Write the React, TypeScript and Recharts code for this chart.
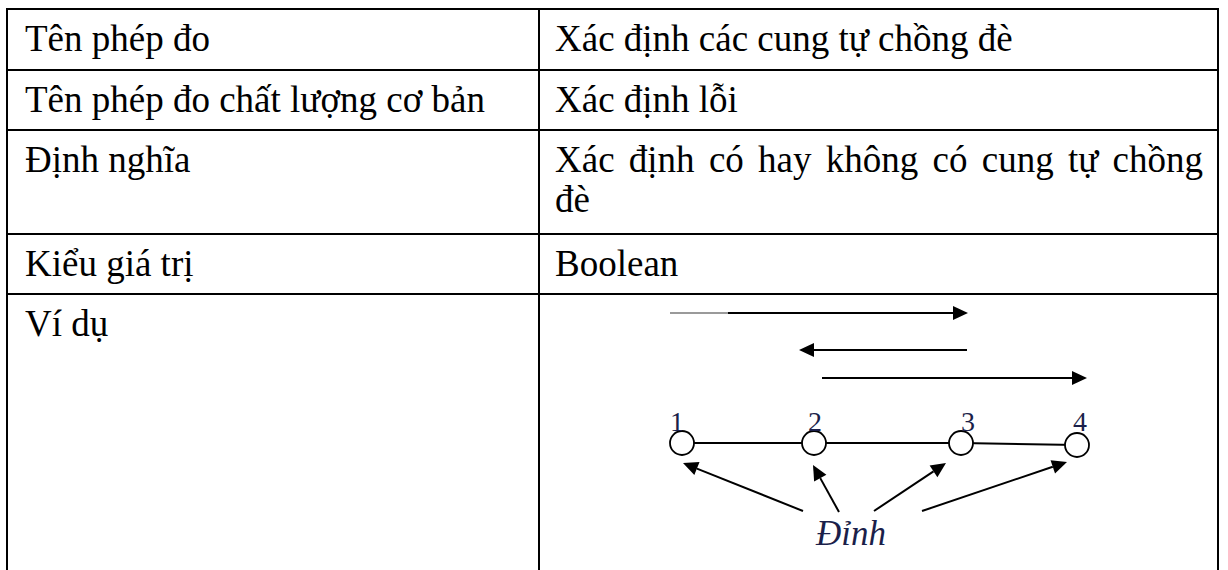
import React from 'react';
import { ScatterChart, Scatter, XAxis, YAxis, ReferenceLine } from 'recharts';

// table rows
const rowLabels = ['Tên phép đo', 'Tên phép đo chất lượng cơ bản', 'Định nghĩa', 'Kiểu giá trị', 'Ví dụ'];
const rowValues = ['Xác định các cung tự chồng đè', 'Xác định lỗi', 'Xác định có hay không có cung tự chồng đè', 'Boolean', ''];
const rowHeights = [61, 60, 104, 60, 300];

// example diagram, units (origin = top-left of the example area)
const nodes = [
  { x: 82, y: 150 },
  { x: 214, y: 150 },
  { x: 361, y: 150 },
  { x: 477, y: 152 },
];
const nodeLabels = [
  { x: 70, y: 138, t: '1' },
  { x: 208, y: 138, t: '2' },
  { x: 361, y: 138, t: '3' },
  { x: 473, y: 138, t: '4' },
];
const arcs = [
  { x1: 70, y1: 20, x2: 368, y2: 20 },
  { x1: 367, y1: 57, x2: 199, y2: 57 },
  { x1: 222, y1: 85, x2: 487, y2: 85 },
];
const pointers = [
  { x1: 203, y1: 218, x2: 83, y2: 170 },
  { x1: 239, y1: 219, x2: 213, y2: 172 },
  { x1: 274, y1: 218, x2: 346, y2: 170 },
  { x1: 322, y1: 218, x2: 467, y2: 169 },
];
const caption = [{ x: 251, y: 252, t: 'Đỉnh' }];

const ink = '#1b1f4a';

const Arrow = (p: any) => {
  const { x1, y1, x2, y2 } = p;
  const a = Math.atan2(y2 - y1, x2 - x1);
  const len = 15;
  const half = 7;
  const bx = x2 - len * Math.cos(a);
  const by = y2 - len * Math.sin(a);
  const s = Math.sin(a);
  const c = Math.cos(a);
  const pts = `${x2},${y2} ${bx + half * s},${by - half * c} ${bx - half * s},${by + half * c}`;
  return (
    <g>
      <line x1={x1} y1={y1} x2={bx} y2={by} stroke="#000" strokeWidth={2} />
      <polygon points={pts} fill="#000" />
    </g>
  );
};

const Node = (p: any) => (
  <circle cx={p.cx} cy={p.cy} r={12} fill="#fff" stroke="#000" strokeWidth={1.8} />
);

const Digit = (p: any) => (
  <text x={p.cx} y={p.cy} fontSize={28} fill={ink} fontFamily='"Liberation Serif", serif'>
    {p.payload.t}
  </text>
);

const Caption = (p: any) => (
  <text x={p.cx} y={p.cy} fontSize={35} fontStyle="italic" textAnchor="middle" fill={ink} fontFamily='"Liberation Serif", serif'>
    {p.payload.t}
  </text>
);

function Diagram() {
  return (
    <ScatterChart width={560} height={277} margin={{ top: 0, right: 0, bottom: 0, left: 0 }}>
      <XAxis type="number" dataKey="x" domain={[0, 560]} hide />
      <YAxis type="number" dataKey="y" domain={[0, 277]} reversed hide />
      {arcs.map((a, i) => (
        <ReferenceLine
          key={`arc-${i}`}
          segment={[{ x: a.x1, y: a.y1 }, { x: a.x2, y: a.y2 }]}
          shape={Arrow}
        />
      ))}
      {/* faded start of the first arc */}
      <ReferenceLine segment={[{ x: 70, y: 20 }, { x: 128, y: 20 }]} stroke="#9a9a9a" strokeWidth={2} />
      {pointers.map((a, i) => (
        <ReferenceLine
          key={`ptr-${i}`}
          segment={[{ x: a.x1, y: a.y1 }, { x: a.x2, y: a.y2 }]}
          shape={Arrow}
        />
      ))}
      <Scatter data={nodes} line={{ stroke: '#000', strokeWidth: 2 }} lineType="joint" shape={Node} isAnimationActive={false} />
      <Scatter data={nodeLabels} shape={Digit} isAnimationActive={false} />
      <Scatter data={caption} shape={Caption} isAnimationActive={false} />
    </ScatterChart>
  );
}

export default function App() {
  return (
    <div
      style={{
        position: 'relative',
        width: 1228,
        height: 570,
        overflow: 'hidden',
        background: '#fff',
        fontFamily: '"Liberation Serif", "Times New Roman", serif',
        fontSize: 37,
        lineHeight: '40px',
        color: '#000',
      }}
    >
      <style>{'body{margin:0}'}</style>
      <div
        style={{
          position: 'absolute',
          left: 6,
          top: 8,
          width: 1213,
          borderLeft: '2px solid #000',
          borderRight: '2px solid #000',
          boxSizing: 'border-box',
        }}
      >
        {rowLabels.map((label, i) => (
          <div
            key={i}
            style={{ display: 'flex', height: rowHeights[i], borderTop: '2px solid #000', boxSizing: 'border-box' }}
          >
            <div style={{ width: 532, flexShrink: 0, borderRight: '2px solid #000', boxSizing: 'border-box', padding: '9px 0 0 17px' }}>
              {label}
            </div>
            <div style={{ flex: 1, padding: '9px 14px 0 15px', textAlign: 'justify' }}>{rowValues[i]}</div>
          </div>
        ))}
      </div>
      <div style={{ position: 'absolute', left: 600, top: 293 }}>
        <Diagram />
      </div>
    </div>
  );
}
